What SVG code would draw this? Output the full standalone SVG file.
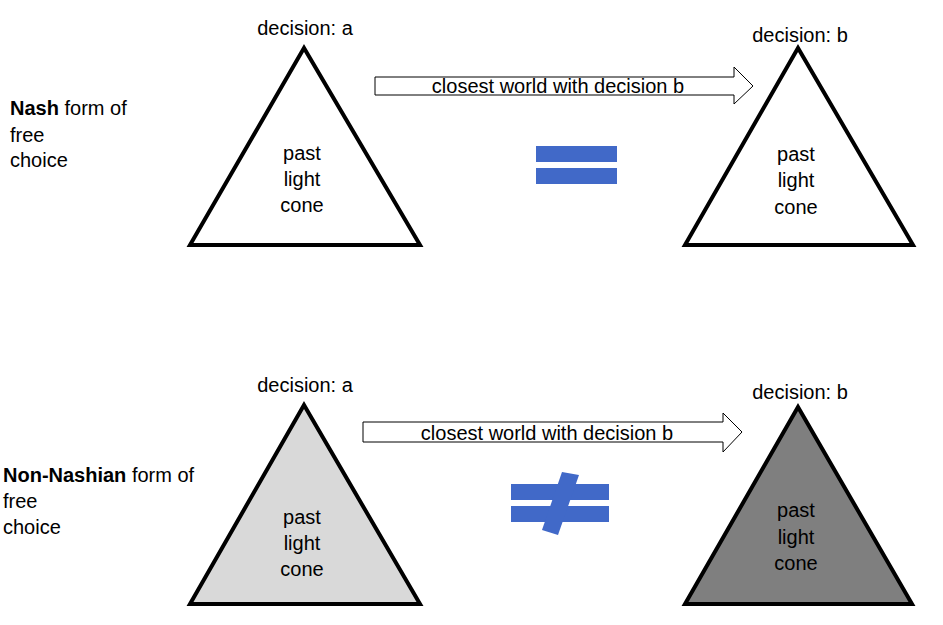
<svg xmlns="http://www.w3.org/2000/svg" width="943" height="625" viewBox="0 0 943 625">
<style>
text{font-family:"Liberation Sans",Arial,sans-serif;font-size:20px;fill:#000}
.c{text-anchor:middle}
.tri{stroke:#000;stroke-width:4;stroke-linejoin:miter}
.arr{fill:#fff;stroke:#000;stroke-width:1}
.eq{fill:#4169c8}
</style>
<rect width="943" height="625" fill="#fff"/>
<g id="label-nash">
<text x="10" y="115"><tspan font-weight="bold">Nash</tspan> form of</text>
<text x="10" y="142">free</text>
<text x="10" y="167">choice</text>
</g>
<g id="label-nonnash">
<text x="3" y="482"><tspan font-weight="bold">Non-Nashian</tspan> form of</text>
<text x="3" y="508">free</text>
<text x="3" y="534">choice</text>
</g>
<g id="cone-top-a">
<text class="c" x="305" y="35">decision: a</text>
<polygon class="tri" points="304,48 190,245 420,245" fill="#fff"/>
<text class="c" x="302" y="160">past</text>
<text class="c" x="302" y="186">light</text>
<text class="c" x="302" y="212">cone</text>
</g>
<g id="cone-top-b">
<text class="c" x="800" y="42">decision: b</text>
<polygon class="tri" points="798,48 685,245 913,245" fill="#fff"/>
<text class="c" x="796" y="161">past</text>
<text class="c" x="796" y="187">light</text>
<text class="c" x="796" y="214">cone</text>
</g>
<g id="cone-bottom-a">
<text class="c" x="305" y="392">decision: a</text>
<polygon class="tri" points="304,405 190,604 420,604" fill="#d9d9d9"/>
<text class="c" x="302" y="524">past</text>
<text class="c" x="302" y="550">light</text>
<text class="c" x="302" y="576">cone</text>
</g>
<g id="cone-bottom-b">
<text class="c" x="800" y="399">decision: b</text>
<polygon class="tri" points="798,407 685,604 912,604" fill="#7f7f7f"/>
<text class="c" x="796" y="517">past</text>
<text class="c" x="796" y="544">light</text>
<text class="c" x="796" y="570">cone</text>
</g>
<g id="connectors">
<polygon class="arr" points="375,77 734,77 734,67 753,86 734,104 734,95 375,95"/>
<text class="c" x="558" y="93">closest world with decision b</text>
<polygon class="arr" points="363,422 723,422 723,413 742,432 723,452 723,442 363,442"/>
<text class="c" x="547" y="440">closest world with decision b</text>
</g>
<g id="equals">
<rect class="eq" x="536" y="146" width="81" height="16"/>
<rect class="eq" x="536" y="168" width="81" height="16"/>
</g>
<g id="not-equals">
<rect class="eq" x="511" y="484" width="98" height="16"/>
<rect class="eq" x="511" y="506" width="98" height="16"/>
<polygon class="eq" points="562,472 579,475 558,535 542,530"/>
</g>
</svg>
